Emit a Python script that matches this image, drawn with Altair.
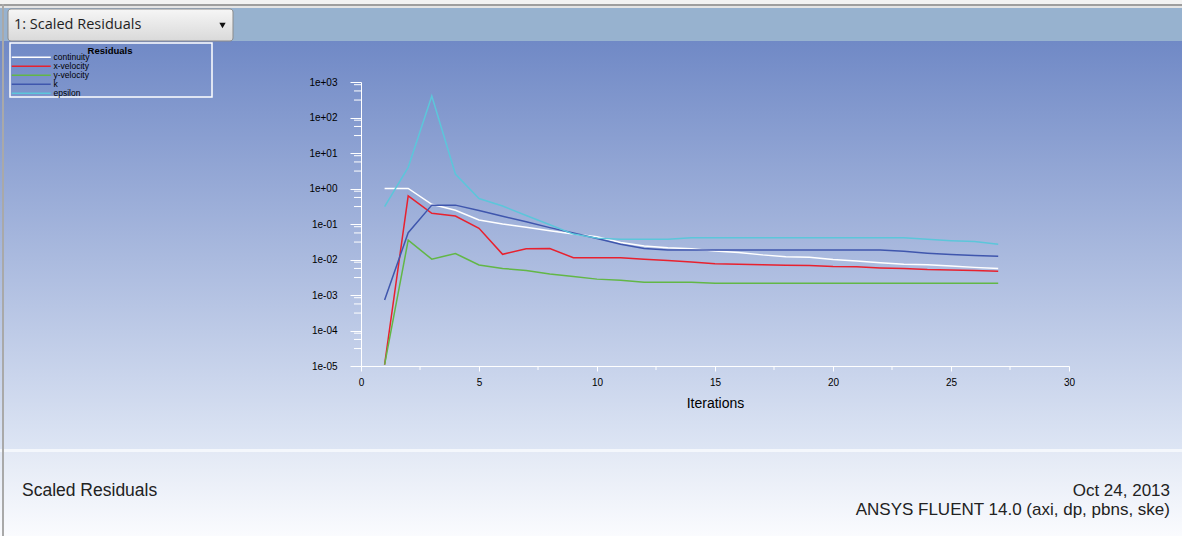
import altair as alt
import pandas as pd

# ---------------- data ----------------
iterations = list(range(1, 28))
series_names = ["continuity", "x-velocity", "y-velocity", "k", "epsilon"]
series_colors = ["#ffffff", "#e8212e", "#62b746", "#3f56ad", "#5cc6da"]

continuity = [1.0, 1.0, 0.36, 0.245, 0.13, 0.10, 0.081, 0.065, 0.052, 0.044,
              0.030, 0.024, 0.0214, 0.020, 0.0174, 0.0158, 0.0135, 0.012, 0.0115,
              0.010, 0.0091, 0.0081, 0.0074, 0.0071, 0.0066, 0.0060, 0.0056]
x_velocity = [1.1e-5, 0.62, 0.20, 0.168, 0.076, 0.014, 0.020, 0.0204, 0.0112, 0.0112,
              0.0112, 0.0102, 0.0093, 0.0085, 0.0076, 0.0074, 0.0071, 0.0069, 0.0068,
              0.0063, 0.0062, 0.0058, 0.0056, 0.0052, 0.0051, 0.0049, 0.0047]
y_velocity = [1.1e-5, 0.035, 0.0102, 0.0148, 0.0070, 0.0056, 0.0049, 0.0039, 0.0033, 0.0028,
              0.0026, 0.0023, 0.0023, 0.0023, 0.00214, 0.00214, 0.00214, 0.00214, 0.00214,
              0.00214, 0.00214, 0.00214, 0.00214, 0.00214, 0.00214, 0.00214, 0.00214]
k_values = [7.2e-4, 0.057, 0.34, 0.34, 0.24, 0.166, 0.115, 0.079, 0.056, 0.039,
            0.027, 0.0204, 0.0186, 0.0186, 0.0186, 0.0186, 0.0186, 0.0186, 0.0186,
            0.0186, 0.0186, 0.0186, 0.017, 0.0151, 0.0138, 0.0129, 0.0123]
epsilon = [0.31, 3.95, 404.0, 2.56, 0.52, 0.32, 0.174, 0.095, 0.052, 0.040,
           0.037, 0.037, 0.037, 0.041, 0.041, 0.041, 0.041, 0.041, 0.041,
           0.041, 0.041, 0.041, 0.041, 0.037, 0.034, 0.032, 0.027]

y_major_ticks = [1e-5, 1e-4, 1e-3, 1e-2, 1e-1, 1e0, 1e1, 1e2, 1e3]
y_minor_mantissas = [3.1, 5.6, 8.4]
x_major_ticks = [0, 5, 10, 15, 20, 25, 30]
x_minor_ticks = [2.5, 7.5, 12.5, 17.5, 22.5, 27.5]

panel_title = "1: Scaled Residuals"
legend_title = "Residuals"
x_title = "Iterations"
footer_left = "Scaled Residuals"
footer_date = "Oct 24, 2013"
footer_version = "ANSYS FLUENT 14.0 (axi, dp, pbns, ske)"

# ---------------- tables ----------------
series_values = [continuity, x_velocity, y_velocity, k_values, epsilon]
rows = []
for name, vals in zip(series_names, series_values):
    for it, v in zip(iterations, vals):
        rows.append({"iteration": it, "value": v, "series": name})
df = pd.DataFrame(rows)

minor_y = pd.DataFrame({"value": [m * d for d in y_major_ticks[:-1] for m in y_minor_mantissas]})
minor_x = pd.DataFrame({"iteration": x_minor_ticks})
one = pd.DataFrame({"k": [0]})

# ---------------- layout ----------------
W_TOTAL, H_TOTAL = 1182, 536
PAD_L, PAD_T = 361, 82
W, H = 708, 284
PAD_R = W_TOTAL - PAD_L - W
PAD_B = H_TOTAL - PAD_T - H

AX_FONT = "Liberation Sans"


def px(v):
    return alt.value(v - PAD_L)


def py(v):
    return alt.value(v - PAD_T)


def band(x0, x1, y0, y1, **kw):
    return alt.Chart(one).mark_rect(**kw).encode(x=px(x0), x2=px(x1), y=py(y0), y2=py(y1))


def vgrad(c0, c1):
    return alt.Gradient(gradient="linear",
                        stops=[alt.GradientStop(color=c0, offset=0),
                               alt.GradientStop(color=c1, offset=1)],
                        x1=0, x2=0, y1=0, y2=1)


def label(text, x, y, **kw):
    return alt.Chart(one).mark_text(text=text, **kw).encode(x=px(x), y=py(y))


decor = [
    band(0, W_TOTAL, 0, 5, color="#f2f2f2"),
    band(0, W_TOTAL, 4, 6, color="#9e9e9e"),
    band(0, W_TOTAL, 6, 8, color="#e4e4e4"),
    band(0, W_TOTAL, 8, 41, color="#97b2cf"),
    band(0, W_TOTAL, 41, 449, fill=vgrad("#7089c6", "#dde5f4")),
    band(0, W_TOTAL, 449, 452, color="#f4f7fc"),
    band(0, W_TOTAL, 452, H_TOTAL, fill=vgrad("#e3e9f5", "#fafbfe")),
    band(2, 4, 4, H_TOTAL, color="#a9a9a9"),
    band(8, 233, 9, 41, fill=vgrad("#f6f6f6", "#d9d9d9"), stroke="#8b8b8b",
         strokeWidth=1, cornerRadius=3),
    alt.Chart(one).mark_point(shape="triangle-down", filled=True, size=40,
                              color="#111111", opacity=1).encode(x=px(222.5), y=py(25.5)),
    label(panel_title, 14, 25, align="left", baseline="middle", fontSize=14.5,
          font="Open Sans", color="#1e1e1e"),
    band(10, 212, 43, 97, fill="transparent", stroke="#ffffff", strokeWidth=1.5),
    label(legend_title, 110, 51, align="center", baseline="middle", fontSize=9.5,
          fontWeight="bold", font=AX_FONT, color="#000000"),
    label(footer_left, 22, 491, align="left", baseline="middle", fontSize=17.5,
          font=AX_FONT, color="#222222"),
    label(footer_date, 1170, 491, align="right", baseline="middle", fontSize=17,
          font=AX_FONT, color="#222222"),
    label(footer_version, 1170, 510, align="right", baseline="middle", fontSize=17,
          font=AX_FONT, color="#222222"),
]

x_scale = alt.Scale(domain=[0, 30], nice=False, zero=False)
y_scale = alt.Scale(type="log", domain=[1e-5, 1e3], nice=False)

x_axis = alt.Axis(values=x_major_ticks, title=x_title, format="d",
                  tickSize=5, tickColor="#ffffff", domainColor="#ffffff",
                  labelFont=AX_FONT, labelFontSize=10, labelColor="#000000",
                  labelPadding=6, titleFont=AX_FONT, titleFontSize=14,
                  titleFontWeight="normal", titleColor="#000000",
                  titlePadding=9, grid=False, zindex=1, labelFlush=False)
y_axis = alt.Axis(values=y_major_ticks, title=None,
                  labelExpr="'1e' + (datum.value >= 1 ? '+' : '-') + '0' + abs(round(log(datum.value) / LN10))",
                  tickSize=11, tickColor="#ffffff", domainColor="#ffffff",
                  labelFont=AX_FONT, labelFontSize=10, labelColor="#000000",
                  labelPadding=13, grid=False, zindex=1, labelFlush=False)

lines = alt.Chart(df).mark_line(strokeWidth=1.5).encode(
    x=alt.X("iteration:Q", scale=x_scale, axis=x_axis),
    y=alt.Y("value:Q", scale=y_scale, axis=y_axis),
    color=alt.Color("series:N",
                    scale=alt.Scale(domain=series_names, range=series_colors),
                    legend=alt.Legend(title=None, orient="none", legendX=-334, legendY=-29,
                                      symbolType="M-6.5,0H6.5", symbolSize=36,
                                      symbolStrokeWidth=1.5, labelFont=AX_FONT,
                                      labelFontSize=8.5, labelColor="#000000",
                                      labelOffset=18, rowPadding=0, padding=0,
                                      zindex=1, labelLimit=200)),
    order=alt.Order("iteration:Q"),
)

minor_y_ticks = alt.Chart(minor_y).mark_rule(color="#ffffff", strokeWidth=1).encode(
    y=alt.Y("value:Q", scale=y_scale, axis=y_axis),
    x=alt.value(-7), x2=alt.value(0))
minor_x_ticks = alt.Chart(minor_x).mark_rule(color="#ffffff", strokeWidth=1).encode(
    x=alt.X("iteration:Q", scale=x_scale, axis=x_axis),
    y=alt.value(H), y2=alt.value(H + 4))

chart = alt.layer(*decor, lines, minor_y_ticks, minor_x_ticks).properties(
    width=W, height=H,
    padding={"left": PAD_L, "top": PAD_T, "right": PAD_R, "bottom": PAD_B},
    autosize=alt.AutoSizeParams(type="none"),
    background="#ffffff",
).configure_view(stroke=None)

chart.save("out.html", embed_options={"renderer": "svg", "actions": False})
